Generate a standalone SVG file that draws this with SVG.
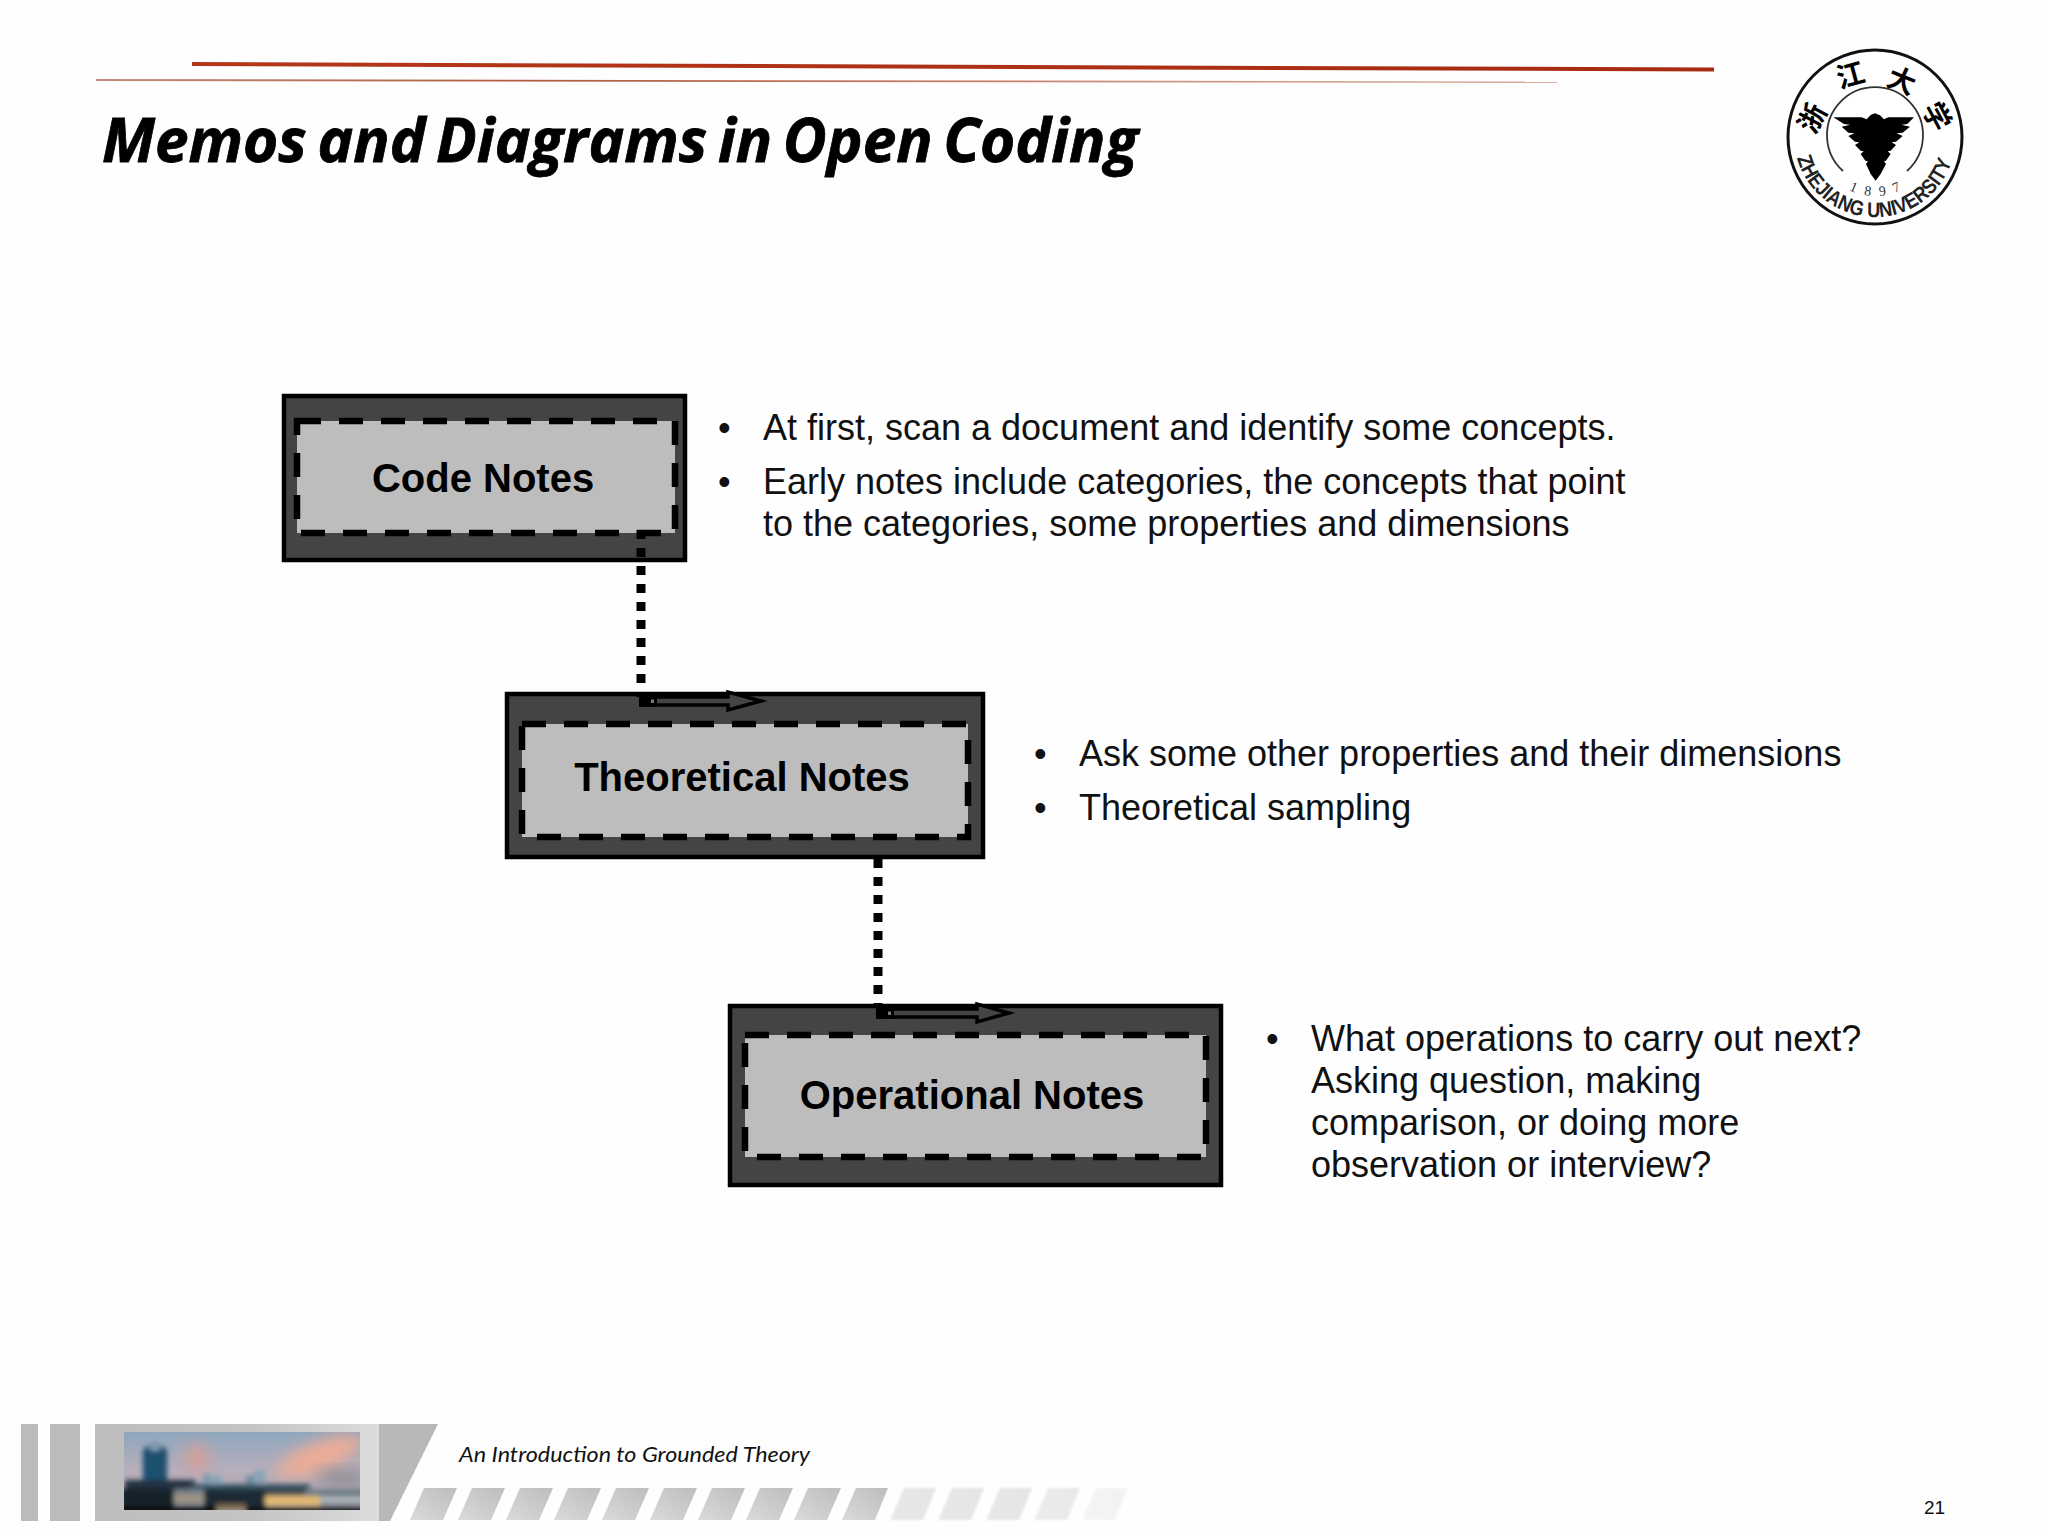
<svg xmlns="http://www.w3.org/2000/svg" width="2048" height="1536" viewBox="0 0 2048 1536">
<style>
.outer{fill:#444;stroke:#000;stroke-width:4.5}
.inner{fill:#bdbdbd;stroke:#000;stroke-width:6.5;stroke-dasharray:24 18}
.label{font:bold 40px "Liberation Sans",Arial,sans-serif;text-anchor:middle;fill:#000}
.body{font:36px "Liberation Sans",Arial,sans-serif;fill:#111}
.dots{fill:none;stroke:#000;stroke-width:9;stroke-dasharray:9 9}
.arrow{fill:#444;stroke:#000;stroke-width:3.500}
.stripe{fill:url(#stripeGrad)}
.stripeLight{fill:url(#stripeLightGrad);filter:url(#soft)}
</style>
<defs>
<linearGradient id="redLine" x1="0" x2="1" y1="0" y2="0"><stop offset="0" stop-color="#b5371a"/><stop offset="1" stop-color="#a82a10"/></linearGradient>
<linearGradient id="thinLine" x1="0" x2="1" y1="0" y2="0"><stop offset="0" stop-color="#c08d78"/><stop offset=".3" stop-color="#b05a40"/><stop offset="1" stop-color="#dcaf9f"/></linearGradient>
<linearGradient id="panelGrad" x1="0" x2="1" y1="0" y2="0"><stop offset="0" stop-color="#bdbdbd"/><stop offset=".55" stop-color="#c4c4c4"/><stop offset="1" stop-color="#dcdcdc"/></linearGradient>
<linearGradient id="stripeGrad" x1="0" x2="1" y1="1" y2="0"><stop offset="0" stop-color="#dadada"/><stop offset="1" stop-color="#bdbdbd"/></linearGradient>
<linearGradient id="stripeLightGrad" x1="0" x2="1" y1="0" y2="0"><stop offset="0" stop-color="#e8e8ea"/><stop offset="1" stop-color="#e4e4e6"/></linearGradient>
<linearGradient id="sky" x1="0" x2="0" y1="0" y2="1"><stop offset="0" stop-color="#8ea7bd"/><stop offset=".5" stop-color="#b8aebb"/><stop offset="1" stop-color="#a9a3ac"/></linearGradient>
<filter id="soft" x="-20%" y="-20%" width="140%" height="140%"><feGaussianBlur stdDeviation="1.2"/></filter>
<filter id="blur" x="-40%" y="-60%" width="180%" height="220%"><feGaussianBlur stdDeviation="8"/></filter>
<filter id="blurS" x="-10%" y="-20%" width="120%" height="140%"><feGaussianBlur stdDeviation="2.400"/></filter>
<clipPath id="photoClip"><rect x="124" y="1432" width="236" height="78"/></clipPath>
<path id="logoLower" d="M1797,158 A81,81 0 0 0 1953,158"/>
<path id="logoYear" d="M1842,186 A59,59 0 0 0 1908,186"/>
</defs>
<rect width="2048" height="1536" fill="#fefefe"/>

<g id="header">
<polygon points="192,62 1714,67.500 1714,71.500 192,66" fill="url(#redLine)"/>
<polygon points="96,79 1557,81.500 1557,83 96,81" fill="url(#thinLine)"/>
<text x="102" y="162" font-family="'Open Sans','Liberation Sans',sans-serif" font-weight="700" font-style="italic" font-size="60" word-spacing="-5" fill="#000" stroke="#000" stroke-width=".8" textLength="1036" lengthAdjust="spacingAndGlyphs">Memos and Diagrams in Open Coding</text>
</g>

<g id="logo">
<circle cx="1875" cy="137" r="87" fill="#fff" stroke="#111" stroke-width="3"/>
<path d="M1843,171 A48,48 0 1 1 1907,171" fill="none" stroke="#333" stroke-width="1.800"/>
<path transform="translate(1760 30) scale(.3333)" fill="#000" d="M220,262 L305,262 L320,268 L332,255 L345,250 L360,256 L372,268 L385,262 L462,262 L442,282 L425,284 L450,290 L428,308 L410,310 L428,318 L408,335 L395,337 L408,345 L392,362 L383,364 L392,372 L378,392 L372,394 L378,402 L362,432 L347,452 L332,432 L318,402 L324,394 L316,392 L302,372 L311,364 L302,362 L285,345 L298,337 L285,335 L265,318 L283,310 L265,308 L245,290 L270,284 L252,282 Z"/>
<g font-family="'Noto Sans CJK SC',sans-serif" font-weight="700" font-size="28" fill="#000" text-anchor="middle">
<text transform="translate(1821 123) rotate(-62)">浙</text>
<text transform="translate(1853 85) rotate(-15)">江</text>
<text transform="translate(1898 90) rotate(22)">大</text>
<text transform="translate(1928 121) rotate(62)">学</text>
</g>
<text font-family="'Liberation Sans',Arial,sans-serif" font-weight="700" font-size="21" fill="#222"><textPath href="#logoLower" textLength="206" lengthAdjust="spacingAndGlyphs">ZHEJIANG UNIVERSITY</textPath></text>
<text font-family="'Liberation Serif',serif" font-size="14" fill="#333"><textPath href="#logoYear" startOffset="8" textLength="54">1 8 9 7</textPath></text>
</g>

<g id="node-code-notes">
<rect class="outer" x="284" y="396" width="401" height="164"/>
<rect class="inner" x="297" y="421" width="378" height="112"/>
<text class="label" x="483" y="492">Code Notes</text>
</g>
<g id="node-theoretical-notes">
<rect class="outer" x="507" y="694" width="476" height="163"/>
<rect class="inner" x="522" y="724" width="446" height="113"/>
<text class="label" x="742" y="791">Theoretical Notes</text>
</g>
<g id="node-operational-notes">
<rect class="outer" x="730" y="1006" width="491" height="179"/>
<rect class="inner" x="745" y="1035" width="461" height="122"/>
<text class="label" x="972" y="1109">Operational Notes</text>
</g>

<g id="connectors">
<path class="dots" d="M641,530 V697"/>
<path class="arrow" d="M645,697 H728 V692 L761,701 L728,710 V705 H645 Z"/>
<rect x="639" y="696" width="18" height="11" fill="#000"/>
<rect x="651" y="699.500" width="3" height="3.500" fill="#777"/>
<path class="dots" d="M878,859 V1008"/>
<path class="arrow" d="M882,1009 H977 V1004 L1009,1013 L977,1022 V1017 H882 Z"/>
<rect x="876" y="1008" width="18" height="11" fill="#000"/>
<rect x="888" y="1011.500" width="3" height="3.500" fill="#777"/>
</g>

<g id="notes">
<g class="body">
<text x="718" y="440">•</text><text x="763" y="440">At first, scan a document and identify some concepts.</text>
<text x="718" y="494">•</text><text x="763" y="494">Early notes include categories, the concepts that point</text>
<text x="763" y="536">to the categories, some properties and dimensions</text>
<text x="1034" y="766">•</text><text x="1079" y="766">Ask some other properties and their dimensions</text>
<text x="1034" y="820">•</text><text x="1079" y="820">Theoretical sampling</text>
<text x="1266" y="1051">•</text><text x="1311" y="1051">What operations to carry out next?</text>
<text x="1311" y="1093">Asking question, making</text>
<text x="1311" y="1135">comparison, or doing more</text>
<text x="1311" y="1177">observation or interview?</text>
</g>
</g>

<g id="footer">
<rect x="21" y="1424" width="17" height="97" fill="#bbb"/>
<rect x="50" y="1424" width="30" height="97" fill="#bbb"/>
<rect x="95" y="1424" width="284" height="97" fill="url(#panelGrad)"/>
<polygon points="379,1424 438,1424 390,1521 379,1521" fill="#b8b8b8"/>
<g clip-path="url(#photoClip)">
<rect x="124" y="1432" width="236" height="78" fill="url(#sky)"/>
<ellipse cx="197" cy="1458" rx="12" ry="14" fill="#d99f98" filter="url(#blur)"/>
<ellipse cx="320" cy="1456" rx="46" ry="14" fill="#f0ac94" filter="url(#blur)" transform="rotate(-22 320 1456)"/>
<ellipse cx="342" cy="1478" rx="26" ry="7" fill="#88878c" filter="url(#blur)"/>
<g filter="url(#blurS)">
<path d="M143,1484 V1450 Q155,1438 167,1450 V1484 Z" fill="#1e5070"/>
<rect x="150" y="1446" width="10" height="4" fill="#8fb0c4"/>
<rect x="125" y="1480" width="70" height="12" fill="#24323f"/>
<rect x="203" y="1474" width="8" height="14" fill="#7f9cb0"/><rect x="212" y="1475" width="10" height="13" fill="#8ba6b8"/>
<rect x="246" y="1476" width="8" height="12" fill="#6d8ba0"/><rect x="254" y="1470" width="11" height="18" fill="#8aa3b4"/>
<rect x="190" y="1484" width="120" height="6" fill="#3a5565"/>
<rect x="120" y="1489" width="244" height="16" fill="#6f7e88"/>
<rect x="120" y="1489" width="54" height="20" fill="#18222b"/>
<rect x="174" y="1494" width="30" height="9" fill="#9c9384"/>
<rect x="204" y="1489" width="62" height="18" fill="#1f2c35"/>
<rect x="265" y="1496" width="55" height="9" fill="#e3b96e"/>
<rect x="265" y="1489" width="40" height="6" fill="#3c4a4c"/>
<rect x="320" y="1497" width="44" height="5" fill="#b7bcc2"/>
<rect x="216" y="1504" width="30" height="6" fill="#7a6a50"/>
<rect x="120" y="1506" width="96" height="8" fill="#0b0b0b"/>
<rect x="246" y="1507" width="118" height="7" fill="#0b0b0b"/>
</g>
</g>
<g id="footer-stripes">
<polygon class="stripe" points="410,1520 424,1488 457,1488 443,1520"/>
<polygon class="stripe" points="458,1520 472,1488 505,1488 491,1520"/>
<polygon class="stripe" points="506,1520 520,1488 553,1488 539,1520"/>
<polygon class="stripe" points="554,1520 568,1488 601,1488 587,1520"/>
<polygon class="stripe" points="602,1520 616,1488 649,1488 635,1520"/>
<polygon class="stripe" points="650,1520 664,1488 697,1488 683,1520"/>
<polygon class="stripe" points="698,1520 712,1488 745,1488 731,1520"/>
<polygon class="stripe" points="746,1520 760,1488 793,1488 779,1520"/>
<polygon class="stripe" points="794,1520 808,1488 841,1488 827,1520"/>
<polygon class="stripe" points="842,1520 856,1488 888,1488 875,1520"/>
<polygon class="stripeLight" points="890,1520 904,1488 936,1488 923,1520"/>
<polygon class="stripeLight" points="938,1520 952,1488 984,1488 971,1520"/>
<polygon class="stripeLight" points="986,1520 1000,1488 1032,1488 1019,1520"/>
<polygon class="stripeLight" opacity=".8" points="1034,1520 1048,1488 1080,1488 1067,1520"/>
<polygon class="stripeLight" opacity=".45" points="1082,1520 1096,1488 1128,1488 1115,1520"/>
</g>
<text x="459" y="1462" font-family="Lato,'Liberation Sans',sans-serif" font-style="italic" font-size="22" fill="#111" textLength="351" lengthAdjust="spacingAndGlyphs">An Introduction to Grounded Theory</text>
<text x="1924" y="1514" font-family="'Liberation Sans',Arial,sans-serif" font-size="19" fill="#111">21</text>
</g>
</svg>
